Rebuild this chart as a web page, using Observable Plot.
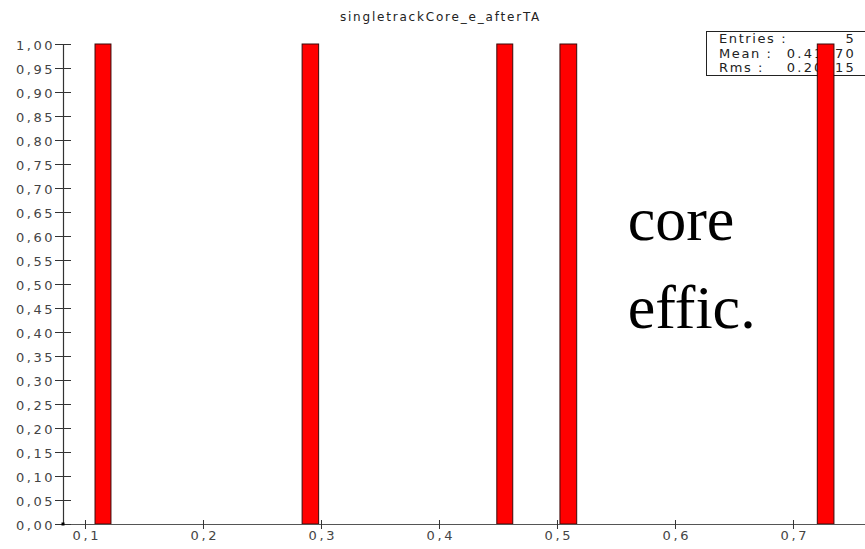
<!DOCTYPE html>
<html>
<head>
<meta charset="utf-8">
<script src="https://cdn.jsdelivr.net/npm/d3@7"></script>
<script src="https://cdn.jsdelivr.net/npm/@observablehq/plot@0.6"></script>
<style>
  body { margin: 0; background: #fff; }
  svg { display: block; }
</style>
</head>
<body>
<div id="chart"></div>
<script>
// Histogram bins (lower edge, upper edge) and contents
const binLow  = [0.1085, 0.2840, 0.4490, 0.5025, 0.7206];
const binHigh = [0.1220, 0.2980, 0.4625, 0.5167, 0.7347];
const counts  = [1, 1, 1, 1, 1];

const yTicks = d3.range(0, 21).map(i => i * 0.05);
const xTicks = [0.1, 0.2, 0.3, 0.4, 0.5, 0.6, 0.7];

const title = "singletrackCore_e_afterTA";
const statLabels = ["Entries :", "Mean :", "Rms :"];
const statValues = ["5", "0.41870", "0.20915"];
const note = "core\neffic.";

const bins = binLow.map((x1, i) => ({x1, x2: binHigh[i], y: counts[i]}));

const fmtY = d => d.toFixed(2).replace(".", ",");
const fmtX = d => d.toFixed(1).replace(".", ",");

const axisColor = "#333";

// stats box drawn behind the bars
function statsBox(index, scales, values, dim) {
  const g = d3.create("svg:g");
  g.append("rect")
    .attr("x", 706.5).attr("y", 31.5)
    .attr("width", 160).attr("height", 44)
    .attr("fill", "white").attr("stroke", "#222").attr("stroke-width", 1);
  statLabels.forEach((s, i) => {
    g.append("text").attr("x", 719).attr("y", 43 + i * 14.5)
      .attr("text-anchor", "start")
      .style("font-family", "DejaVu Sans").style("font-size", "13px")
      .style("letter-spacing", "1.6px").attr("fill", "#222").text(s);
    g.append("text").attr("x", 856).attr("y", 43 + i * 14.5)
      .attr("text-anchor", "end")
      .style("font-family", "DejaVu Sans").style("font-size", "13px")
      .style("letter-spacing", "2.2px").attr("fill", "#222").text(statValues[i]);
  });
  return g.node();
}

function originDot(index, scales, values, dim) {
  return d3.create("svg:rect")
    .attr("x", dim.marginLeft - 1.5).attr("y", dim.height - dim.marginBottom - 1.5)
    .attr("width", 3).attr("height", 3).attr("fill", "#000").node();
}

const plot = Plot.plot({
  width: 865,
  height: 549,
  marginLeft: 63,
  marginRight: 0,
  marginTop: 44,
  marginBottom: 25,
  style: {fontFamily: "DejaVu Sans", color: axisColor, background: "white"},
  x: {domain: [0.08136, 0.76102]},
  y: {domain: [0, 1]},
  marks: [
    statsBox,
    Plot.text([title], {frameAnchor: "top", dx: -24, dy: -32, fontSize: 12, fill: "#222", fontFamily: "DejaVu Sans"}),
    Plot.rectY(bins, {x1: "x1", x2: "x2", y: "y", fill: "#ff0000", stroke: "#3a0a0a", strokeWidth: 1, insetLeft: 0, insetRight: 0}),
    Plot.frame({anchor: "left", stroke: axisColor, strokeWidth: 1.2}),
    Plot.frame({anchor: "bottom", stroke: "#555", strokeWidth: 1.2}),
    Plot.axisY(yTicks, {anchor: "left", tickSize: 16, dx: 8, tickFormat: () => "", stroke: axisColor, label: null}),
    Plot.axisX(xTicks, {anchor: "bottom", tickSize: 9, dy: -4, tickFormat: () => "", stroke: axisColor, label: null}),
    Plot.text(yTicks, {y: d => d, frameAnchor: "left", text: fmtY, textAnchor: "end", dx: -8.5, dy: 1.5, fontSize: 13, fill: "#444", fontFamily: "DejaVu Sans"}),
    Plot.text(xTicks, {x: d => d, frameAnchor: "bottom", text: fmtX, textAnchor: "middle", dx: 1.3, dy: 15, fontSize: 13, fill: "#444", fontFamily: "DejaVu Sans"}),
    originDot,
    Plot.text([note], {x: [0.5595], y: [0.723], text: d => d, textAnchor: "start", lineAnchor: "top", fontFamily: "Liberation Serif", fontSize: 62, lineHeight: 1.42, fill: "#000"})
  ]
});

const yLabelSet = new Set(yTicks.map(fmtY));
const xLabelSet = new Set(xTicks.map(fmtX));
d3.select(plot).selectAll("text").each(function() {
  const t = this.textContent;
  if (yLabelSet.has(t)) d3.select(this).style("letter-spacing", "2.5px");
  else if (xLabelSet.has(t)) d3.select(this).style("letter-spacing", "2.6px");
  else if (t === title) d3.select(this).style("letter-spacing", "1.8px");
});

document.getElementById("chart").appendChild(plot);
</script>
</body>
</html>
